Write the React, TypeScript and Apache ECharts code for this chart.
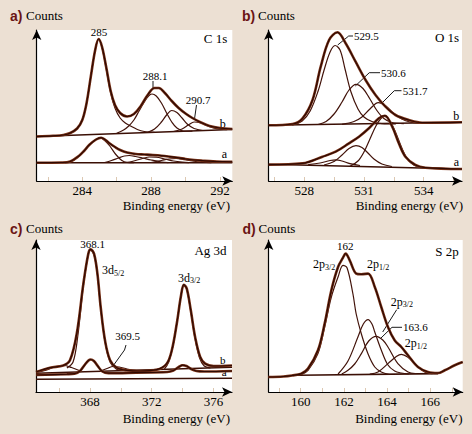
import { useEffect, useRef } from "react";
import * as echarts from "echarts";

// ---------- Panel a) C 1s ----------
const c1sTicks = [282, 284, 286, 288, 290, 292];
const c1sLabels = [284, 288, 292];
const c1sB_base = [[281.35, 44.5], [292.72, 51.5]];
const c1sB_env = [[281.35, 44.5], [282.3, 45.2], [282.9, 46], [283.3, 48], [283.7, 52.5], [284.0, 61], [284.25, 78], [284.5, 105], [284.75, 131], [284.95, 142], [285.15, 134], [285.4, 113], [285.65, 90], [285.9, 76], [286.2, 68], [286.6, 64.5], [287.0, 67], [287.4, 75], [287.8, 86], [288.2, 93], [288.45, 93], [288.8, 88], [289.2, 80], [289.6, 73], [290.0, 67.5], [290.4, 63], [290.9, 58.5], [291.4, 55], [292.0, 53], [292.72, 52]];
const c1sB_c285 = [[282.8, 45.8], [283.3, 47.8], [283.7, 52.5], [284.0, 61], [284.25, 78], [284.5, 105], [284.75, 131], [284.95, 141.5], [285.15, 133], [285.4, 111], [285.65, 88], [285.9, 73], [286.2, 63], [286.5, 58], [286.8, 55], [287.2, 51.5], [287.6, 49.5], [288.2, 48.6]];
const c1sB_c2881 = [[286.0, 47.8], [286.4, 51], [286.7, 55], [287.0, 61], [287.3, 70], [287.6, 79], [287.85, 85], [288.05, 87], [288.3, 85], [288.6, 78], [288.9, 68], [289.2, 59], [289.5, 53], [289.9, 50], [290.4, 49.8]];
const c1sB_c2893 = [[287.8, 48.8], [288.2, 52], [288.6, 59], [288.9, 66], [289.2, 70.5], [289.5, 68.5], [289.8, 63], [290.1, 57], [290.5, 52.5], [291.0, 50.5]];
const c1sB_c2907 = [[289.3, 49.5], [289.8, 52], [290.2, 56.5], [290.5, 59], [290.9, 58], [291.3, 55], [291.8, 52.3], [292.4, 51.4]];
const c1sA_base = [[281.35, 18.3], [292.72, 18.3]];
const c1sA_env = [[281.35, 18.3], [282.8, 18.5], [283.3, 19.5], [283.8, 25], [284.1, 30], [284.4, 36], [284.8, 41.5], [285.09, 43.3], [285.35, 41], [285.6, 37.5], [285.9, 34], [286.2, 31], [286.6, 28.5], [287.1, 27], [287.6, 26.5], [288.1, 26], [288.6, 25.3], [289.1, 24.3], [289.6, 23.2], [290.0, 22], [290.5, 21], [291.0, 20.3], [291.6, 19.6], [292.2, 19.3], [292.72, 19.2]];
const c1sA_c1 = [[283.0, 18.3], [283.4, 19.8], [283.8, 25], [284.1, 30], [284.4, 36], [284.8, 41.5], [285.05, 43], [285.3, 40.5], [285.6, 35], [285.95, 26.5], [286.3, 20.5], [286.6, 18.6], [287.0, 18.3]];
const c1sA_c2 = [[285.3, 18.5], [285.7, 20.5], [286.1, 23], [286.45, 25], [286.73, 25.5], [287.1, 24.5], [287.5, 23], [288.0, 21], [288.6, 19], [289.0, 18.3]];
const c1sA_c3 = [[286.6, 18.5], [287.1, 20.5], [287.5, 22.5], [287.9, 24], [288.3, 23.8], [288.8, 22], [289.3, 20], [289.8, 18.8], [290.2, 18.3]];
const c1sA_c4 = [[288.0, 18.5], [288.6, 20.5], [289.05, 22], [289.45, 22.5], [289.9, 21.5], [290.4, 20], [291.0, 18.8], [291.5, 18.3]];

// ---------- Panel b) O 1s ----------
const o1sTicks = [526.5, 528, 529.5, 531, 532.5, 534, 535.5];
const o1sLabels = [528, 531, 534];
const o1sB_base = [[526.22, 55.7], [535.92, 58.7]];
const o1sB_env = [[526.22, 55.7], [527.42, 57], [527.92, 62.7], [528.42, 81], [528.83, 114.3], [529.25, 141], [529.67, 148.7], [530.08, 137.7], [530.58, 119.3], [531.08, 101], [531.58, 86], [532.08, 74.3], [532.58, 66], [533.25, 61], [533.92, 58.3], [535.92, 58.7]];
const o1sB_c5295 = [[527.4, 56], [527.9, 60], [528.3, 70], [528.7, 90], [529.0, 111], [529.3, 129], [529.55, 135.5], [529.8, 131], [530.05, 112], [530.35, 89], [530.7, 72], [531.0, 64], [531.4, 59.5], [531.9, 57.3], [532.6, 57]];
const o1sB_c5306 = [[528.7, 56.5], [529.1, 59.5], [529.5, 67], [529.9, 79], [530.25, 91], [530.6, 96.7], [530.95, 92.5], [531.3, 82], [531.65, 70.5], [532.0, 62.5], [532.4, 58.5], [533.0, 57.3]];
const o1sB_c5317 = [[529.9, 56.7], [530.5, 59.5], [530.9, 64], [531.3, 72], [531.72, 78.3], [532.1, 75], [532.5, 67.5], [532.9, 62], [533.3, 59], [533.8, 57.8]];
const o1sA_base = [[526.22, 16.7], [535.92, 12]];
const o1sA_env = [[526.22, 16.3], [527.92, 17.7], [528.92, 24.3], [529.58, 29.3], [530.25, 37.7], [530.75, 44.3], [531.25, 52.7], [531.75, 62.7], [532.05, 65.3], [532.42, 54.3], [532.75, 37.7], [533.08, 24.3], [533.58, 16], [534.08, 13.3], [535.92, 12]];
const o1sA_cMain = [[530.3, 14.7], [530.7, 20], [531.0, 29], [531.3, 42], [531.6, 55], [531.85, 62.5], [532.05, 64.5], [532.3, 60], [532.6, 48], [532.9, 33], [533.2, 21.5], [533.5, 16], [533.9, 13.5], [534.4, 13]];
const o1sA_c5306 = [[529.0, 16], [529.5, 19.5], [529.9, 26], [530.25, 32.5], [530.6, 35.3], [530.9, 33.5], [531.2, 28], [531.5, 22], [531.9, 17], [532.4, 14.5]];
const o1sA_c5295 = [[528.2, 16.3], [528.8, 18], [529.3, 20.5], [529.6, 21.2], [529.9, 20], [530.3, 17.3], [530.8, 15.5]];

// ---------- Panel c) Ag 3d ----------
const ag3dTicks = [366, 368, 370, 372, 374, 376];
const ag3dLabels = [368, 372, 376];
const ag3dB_base = [[364.5, 18.7], [377.2, 24.7]];
const ag3dB_env = [[364.5, 20], [365.41, 24.3], [366.27, 26.5], [366.7, 31.7], [367.14, 58.3], [367.57, 108.3], [367.89, 138.3], [368.04, 142.7], [368.26, 138.3], [368.48, 118.3], [368.69, 85], [368.97, 51.7], [369.3, 31.7], [369.73, 24.3], [370.38, 21.7], [371.24, 21], [372.32, 22.3], [372.97, 28.3], [373.3, 41.7], [373.62, 68.3], [373.9, 96.7], [374.08, 107.3], [374.27, 103.3], [374.53, 81.7], [374.81, 55], [375.14, 35], [375.46, 28.3], [376.0, 26], [377.2, 26.5]];
const ag3dB_cLeft = [[364.5, 19.5], [365.2, 22], [365.8, 25.5], [366.3, 26.5], [366.8, 24.5], [367.3, 21.5]];
const ag3dB_c3681 = [[366.5, 24], [366.9, 30], [367.2, 55], [367.57, 106], [367.89, 137], [368.04, 141.5], [368.26, 137], [368.48, 117], [368.69, 84], [368.97, 50], [369.3, 30], [369.7, 23], [370.2, 21.5]];
const ag3dB_c3695 = [[368.7, 21], [369.1, 23.5], [369.5, 25.5], [369.9, 25], [370.4, 23], [371.0, 21.5]];
const ag3dB_c3d32 = [[372.8, 22.5], [373.1, 30], [373.4, 48], [373.65, 72], [373.9, 97], [374.08, 106.5], [374.27, 102.5], [374.53, 80], [374.81, 53], [375.1, 34], [375.4, 26], [375.8, 24]];
const ag3dA_data = [[364.5, 17], [366.5, 17.8], [367.0, 18.3], [367.35, 21], [367.65, 27], [367.9, 31.5], [368.05, 32.5], [368.25, 31], [368.5, 26], [368.8, 20.5], [369.2, 18.8], [371.0, 19.3], [373.0, 20], [373.4, 21.5], [373.75, 25], [374.0, 26.8], [374.25, 26], [374.55, 23], [374.9, 21], [375.4, 20.5], [377.2, 21]];
const ag3dA_base = [[364.5, 12.7], [377.2, 13.7]];

// ---------- Panel d) S 2p ----------
const s2pTicks = [159, 160, 161, 162, 163, 164, 165, 166, 167];
const s2pLabels = [160, 162, 164, 166];
const s2p_data = [[158.49, 15], [159.2, 15.5], [159.6, 16.5], [160.03, 18.4], [160.34, 23.4], [160.8, 41.7], [161.11, 68.4], [161.42, 101.7], [161.73, 125], [161.96, 134.4], [162.08, 138.4], [162.27, 131.7], [162.57, 118.4], [162.81, 117.7], [163.12, 118.4], [163.43, 105], [163.73, 85], [164.04, 65], [164.35, 51.7], [164.66, 45], [164.97, 36.7], [165.43, 25], [165.89, 20], [166.36, 19], [166.67, 21.7], [167.13, 26.7], [167.5, 30]];
const s2p_base = [[159.88, 16.7], [166.36, 18.4]];
const s2p_c162 = [[160.0, 17], [160.34, 21.7], [160.8, 38.4], [161.11, 65], [161.42, 95], [161.73, 115], [161.96, 126.7], [162.15, 124], [162.42, 98], [162.57, 78], [162.81, 58], [163.12, 38], [163.43, 25], [163.73, 20], [164.1, 17.5]];
const s2p_c1632 = [[161.73, 18], [162.19, 31], [162.65, 55], [162.9, 68], [163.12, 72.4], [163.3, 68], [163.43, 60], [163.73, 42], [164.04, 27], [164.35, 21], [164.66, 19], [165.0, 18]];
const s2p_c1636 = [[161.9, 18], [162.19, 21.7], [162.5, 28], [162.81, 38.4], [163.15, 51], [163.5, 55.7], [163.8, 52], [164.04, 45], [164.5, 28.4], [164.97, 20], [165.3, 18.5]];
const s2p_c1648 = [[163.2, 17.8], [163.58, 20], [164.04, 28.4], [164.4, 35], [164.66, 37.7], [164.95, 35], [165.28, 28.4], [165.74, 20], [166.1, 18.3]];

const BG = "#ece0d3";
const SERIF = "'Liberation Serif', 'DejaVu Serif', serif";
const ENV_OUT = "#7a3318";
const ENV_IN = "#2e0902";
const COMP = "#42130a";

export default function App() {
  const ref = useRef<HTMLDivElement>(null);
  useEffect(() => {
    document.body.style.margin = "0";
    const chart = echarts.init(ref.current!, null, { renderer: "svg" });

    const grids = [
      { left: 36.7, top: 30, width: 195.6, height: 151 },
      { left: 268.7, top: 30, width: 193.3, height: 151 },
      { left: 36, top: 240, width: 196, height: 152 },
      { left: 268.7, top: 240, width: 194, height: 152 },
    ];
    const ranges = [[281.35, 292.72], [526.22, 535.92], [364.5, 377.2], [158.52, 167.5]];
    const ticks = [c1sTicks, o1sTicks, ag3dTicks, s2pTicks];
    const labels = [c1sLabels, o1sLabels, ag3dLabels, s2pLabels];

    const series: any[] = [];
    const comp = (g: number, data: number[][], w = 1.2) =>
      series.push({ type: "line", xAxisIndex: g, yAxisIndex: g, data, showSymbol: false, smooth: 0.35, silent: true, lineStyle: { color: COMP, width: w }, z: 2 });
    const env = (g: number, data: number[][]) => {
      series.push({ type: "line", xAxisIndex: g, yAxisIndex: g, data, showSymbol: false, smooth: 0.35, silent: true, lineStyle: { color: ENV_OUT, width: 2.6 }, z: 3 });
      series.push({ type: "line", xAxisIndex: g, yAxisIndex: g, data, showSymbol: false, smooth: 0.35, silent: true, lineStyle: { color: ENV_IN, width: 1.2 }, z: 4 });
    };
    const base = (g: number, data: number[][]) =>
      series.push({ type: "line", xAxisIndex: g, yAxisIndex: g, data, showSymbol: false, silent: true, lineStyle: { color: "#3a0f05", width: 1.6 }, z: 2 });

    base(0, c1sB_base); comp(0, c1sB_c285); comp(0, c1sB_c2881); comp(0, c1sB_c2893); comp(0, c1sB_c2907); env(0, c1sB_env);
    base(0, c1sA_base); comp(0, c1sA_c1); comp(0, c1sA_c2); comp(0, c1sA_c3); comp(0, c1sA_c4); env(0, c1sA_env);

    base(1, o1sB_base); comp(1, o1sB_c5295); comp(1, o1sB_c5306); comp(1, o1sB_c5317); env(1, o1sB_env);
    base(1, o1sA_base); comp(1, o1sA_cMain); comp(1, o1sA_c5306); comp(1, o1sA_c5295); env(1, o1sA_env);

    base(2, ag3dB_base); comp(2, ag3dB_cLeft); comp(2, ag3dB_c3681); comp(2, ag3dB_c3695); comp(2, ag3dB_c3d32); env(2, ag3dB_env);
    base(2, ag3dA_base); env(2, ag3dA_data);

    base(3, s2p_base); comp(3, s2p_c162); comp(3, s2p_c1632); comp(3, s2p_c1636); comp(3, s2p_c1648); env(3, s2p_data);

    const axisLine = { show: true, onZero: false, symbol: ["none", "arrow"], symbolSize: [7, 10], lineStyle: { color: "#000", width: 1.2 } };

    const xAxis = grids.map((_, i) => ({
      type: "value", gridIndex: i, min: ranges[i][0], max: ranges[i][1],
      axisLine,
      axisTick: { show: true, inside: true, length: 4, customValues: ticks[i], lineStyle: { color: "#dcc8b2", width: 1 } },
      axisLabel: { show: true, customValues: labels[i], margin: 3, color: "#000", fontSize: 13, lineHeight: 13, fontFamily: SERIF },
      splitLine: { show: false },
    }));
    const yAxis = grids.map((g, i) => ({
      type: "value", gridIndex: i, min: 0, max: g.height,
      axisLine, axisTick: { show: false }, axisLabel: { show: false }, splitLine: { show: false },
    }));

    const txt = (x: number, y: number, text: string, size = 11, align = "center", extra: any = {}) => ({
      type: "text", x, y, silent: true,
      style: { text, fill: "#000", fontSize: size, fontFamily: SERIF, align, verticalAlign: "middle", lineHeight: size, ...extra },
    });
    const sub = (x: number, y: number, main: string, s: string) => [
      txt(x, y, main, 12, "left"),
      txt(x + 12, y + 3, s, 8, "left"),
    ];
    const leader = (pts: number[][]) => ({ type: "polyline", silent: true, shape: { points: pts }, style: { stroke: "#000", lineWidth: 0.9, fill: "none" } });
    const head = (x: number, y: number, letter: string) => [
      { type: "text", x, y, silent: true, style: { text: letter, fill: "#6b1414", fontSize: 14, fontWeight: "bold", fontFamily: "'Liberation Sans', Arial, sans-serif", align: "left", verticalAlign: "middle" } },
      txt(x + 16, y, "Counts", 13, "left"),
    ];

    const graphic: any[] = [
      ...head(10, 15.5, "a)"), ...head(242, 15.5, "b)"), ...head(10, 228.5, "c)"), ...head(242.5, 228.5, "d)"),
      txt(230, 205, "Binding energy (eV)", 13, "right"),
      txt(463, 205, "Binding energy (eV)", 13, "right"),
      txt(230, 418, "Binding energy (eV)", 13, "right"),
      txt(462.5, 418, "Binding energy (eV)", 13, "right"),
      // panel a
      txt(215.5, 38, "C 1s", 13),
      txt(99, 32, "285"), txt(155, 76, "288.1"), leader([[153, 81], [153, 88]]),
      txt(198, 100, "290.7"), leader([[196.5, 105], [194.5, 119]]),
      txt(222.7, 124, "b", 12), txt(224.3, 154.3, "a", 12),
      // panel b
      txt(447, 37.7, "O 1s", 13),
      txt(354, 36, "529.5", 11, "left"), leader([[353, 36], [348.7, 36], [337.7, 45]]),
      txt(381, 72.7, "530.6", 11, "left"), leader([[380, 72.7], [369.3, 72.7], [355.3, 86]]),
      txt(402.7, 90.7, "531.7", 11, "left"), leader([[401.5, 90.7], [394.3, 90.7], [382, 103]]),
      txt(456.3, 115.7, "b", 12), txt(456.3, 162, "a", 12),
      // panel c
      txt(210.5, 250.3, "Ag 3d", 13),
      txt(92.7, 243.7, "368.1"),
      ...sub(102, 270.3, "3d", "5/2"),
      ...sub(178, 277.7, "3d", "3/2"),
      txt(127.5, 336.3, "369.5"), leader([[126, 345], [124.5, 350], [113, 366]]),
      txt(222.7, 360, "b", 11), txt(224.3, 372.3, "a", 11),
      // panel d
      txt(447, 251.7, "S 2p", 13),
      txt(345.3, 246, "162"),
      ...sub(313, 264, "2p", "3/2"),
      ...sub(367, 264, "2p", "1/2"),
      ...sub(390.7, 301.7, "2p", "3/2"),
      leader([[396.7, 309.7], [382.7, 332]]),
      txt(403, 327.3, "163.6", 11, "left"), leader([[402, 327.3], [392, 327.3], [380.7, 338.3]]),
      ...sub(404.7, 343.3, "2p", "1/2"),
    ];

    chart.setOption({
      animation: false,
      backgroundColor: BG,
      grid: grids.map((g) => ({ ...g, show: true, backgroundColor: "#fff", borderWidth: 0, containLabel: false })),
      xAxis, yAxis, series, graphic,
    });
    return () => chart.dispose();
  }, []);
  return <div ref={ref} style={{ width: 472, height: 434 }} />;
}
